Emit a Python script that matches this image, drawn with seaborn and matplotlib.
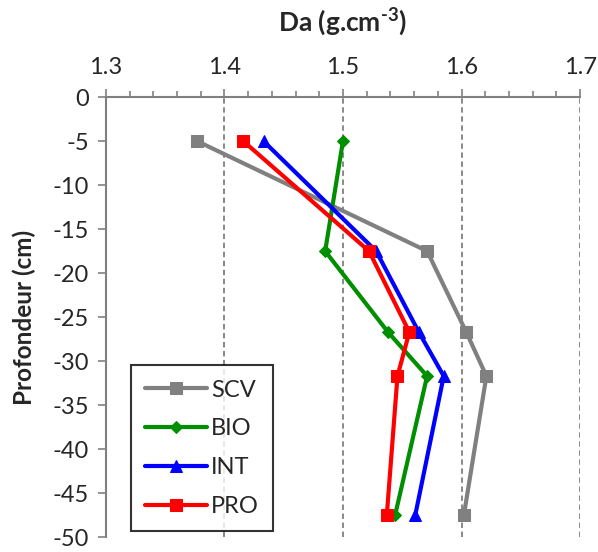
import matplotlib
matplotlib.use("Agg")
import matplotlib.pyplot as plt
import seaborn as sns
import pandas as pd
from matplotlib.ticker import MultipleLocator

sns.set_theme(style="white")
plt.rcParams["font.family"] = ["Lato", "DejaVu Sans"]
plt.rcParams["axes.unicode_minus"] = False
plt.rcParams["mathtext.fontset"] = "custom"
plt.rcParams["mathtext.rm"] = "Lato:bold"
plt.rcParams["mathtext.bf"] = "Lato:bold"

# Sampling depths (cm) and bulk density per treatment
depth = [-5, -17.5, -26.7, -31.7, -47.5]
scv = [1.377, 1.571, 1.604, 1.621, 1.602]
bio = [1.500, 1.485, 1.538, 1.571, 1.544]
int_ = [1.433, 1.528, 1.564, 1.585, 1.561]
pro = [1.416, 1.522, 1.556, 1.546, 1.537]
x_ticks = [1.3, 1.4, 1.5, 1.6, 1.7]
x_tick_labels = ["1.3", "1.4", "1.5", "1.6", "1.7"]

series = [
    ("SCV", scv, "#808080", "s", 9),
    ("BIO", bio, "#008f00", "D", 6),
    ("INT", int_, "#0000ff", "^", 9),
    ("PRO", pro, "#ff0000", "s", 9),
]

fig = plt.figure(figsize=(5.98, 5.52), dpi=100)
ax = fig.add_axes([0.177, 0.027, 0.793, 0.797])

for name, vals, color, marker, ms in series:
    df = pd.DataFrame({"Da": vals, "depth": depth})
    sns.lineplot(data=df, x="Da", y="depth", sort=False, ax=ax, color=color,
                 marker=marker, markersize=ms, markeredgecolor=color,
                 linewidth=3, label=name, estimator=None)

ax.set_xlim(1.3, 1.7)
ax.set_ylim(-50, 0)
ax.xaxis.set_minor_locator(MultipleLocator(0.02))
ax.yaxis.set_major_locator(MultipleLocator(5))
ax.xaxis.tick_top()
ax.xaxis.set_label_position("top")
ax.set_xticks(x_ticks)
ax.set_xticklabels(x_tick_labels)

ax.tick_params(axis="x", which="major", direction="out", length=6, width=1.2,
               color="#808080", labelsize=17, pad=8)
ax.tick_params(axis="x", which="minor", direction="out", length=4, width=1.2,
               color="#808080", top=True, bottom=False)
ax.tick_params(axis="y", which="major", direction="out", length=6, width=1.2,
               color="#808080", labelsize=17, left=True, pad=6)

for side in ["right", "bottom"]:
    ax.spines[side].set_visible(False)
for side in ["left", "top"]:
    ax.spines[side].set_color("#808080")
    ax.spines[side].set_linewidth(1.5)

for xv in x_ticks[1:]:
    ax.axvline(xv, color="#808080", linestyle=(0, (3, 2)), linewidth=1.3, zorder=0)

ax.set_xlabel("Da (g.cm$^{\\text{-3}}$)", fontsize=19, fontweight="bold")
ax.xaxis.set_label_coords(0.5, 1.15)
ax.set_ylabel("Profondeur (cm)", fontsize=17.5, fontweight="bold", labelpad=12)

leg = ax.legend(loc="lower left", bbox_to_anchor=(0.053, 0.014), fontsize=17,
                frameon=True, fancybox=False, edgecolor="black",
                handlelength=2.6, labelspacing=0.75, borderpad=0.6,
                handletextpad=0.2, borderaxespad=0)
leg.get_frame().set_linewidth(1.5)

fig.savefig("out.png", dpi=100)
